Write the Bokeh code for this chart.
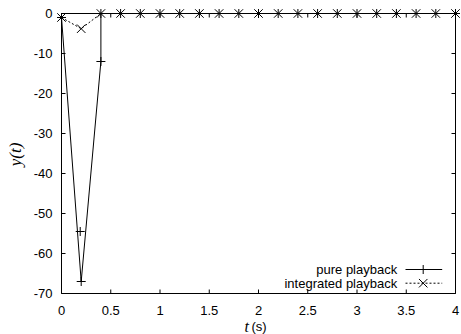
import math
from bokeh.plotting import figure
from bokeh.models import Range1d
from bokeh.core.properties import value
from bokeh.embed import file_html
from bokeh.resources import INLINE

# ---- data ----
pure_t = [0.0, 0.2, 0.4, 0.4, 0.6, 0.8, 1.0, 1.2, 1.4, 1.6, 1.8, 2.0, 2.2, 2.4,
          2.6, 2.8, 3.0, 3.2, 3.4, 3.6, 3.8, 4.0]
pure_y = [-1.0, -67.0, -12.0, 0.0, 0.0, 0.0, 0.0, 0.0, 0.0, 0.0, 0.0, 0.0, 0.0, 0.0,
          0.0, 0.0, 0.0, 0.0, 0.0, 0.0, 0.0, 0.0]
pure_extra_t = [0.19]
pure_extra_y = [-54.5]

integ_t = [0.0, 0.2, 0.4, 0.6, 0.8, 1.0, 1.2, 1.4, 1.6, 1.8, 2.0, 2.2, 2.4,
           2.6, 2.8, 3.0, 3.2, 3.4, 3.6, 3.8, 4.0]
integ_y = [-1.0, -3.8, 0.0, 0.0, 0.0, 0.0, 0.0, 0.0, 0.0, 0.0, 0.0, 0.0, 0.0,
           0.0, 0.0, 0.0, 0.0, 0.0, 0.0, 0.0, 0.0]

x_ticks = [0, 0.5, 1, 1.5, 2, 2.5, 3, 3.5, 4]
x_tick_labels = ["0", "0.5", "1", "1.5", "2", "2.5", "3", "3.5", "4"]
y_ticks = [-70, -60, -50, -40, -30, -20, -10, 0]
y_tick_labels = ["-70", "-60", "-50", "-40", "-30", "-20", "-10", "0"]

series_names = ["pure playback", "integrated playback"]
x_label_parts = ["t", "(s)"]
y_label = "y(t)"

SANS = value("Liberation Sans")
SERIF = value("Liberation Serif")

W, H = 461, 334
X_MIN, X_MAX = x_ticks[0], x_ticks[-1]
Y_MIN, Y_MAX = y_ticks[0], y_ticks[-1]
LEFT_PX, TOP_PX = 61, 13      # where the data box starts on the canvas
PX_X = 98.5                   # pixels per x unit
PX_Y = 4.0                    # pixels per y unit


def dx(px):   # canvas pixel column -> data x
    return (px - LEFT_PX) / PX_X


def dy(px):   # canvas pixel row -> data y
    return Y_MAX - (px - TOP_PX) / PX_Y


p = figure(width=W, height=H,
           x_range=Range1d(dx(0), dx(W)), y_range=Range1d(dy(H), dy(0)),
           output_backend="svg", toolbar_location=None,
           x_axis_type=None, y_axis_type=None,
           min_border=0, min_border_left=0, min_border_right=0,
           min_border_top=0, min_border_bottom=0)
p.grid.visible = False
p.outline_line_color = None
p.background_fill_color = "white"
p.border_fill_color = "white"

# border box of the data area and inward ticks on all four sides (gnuplot style)
p.quad(left=[X_MIN], right=[X_MAX], bottom=[Y_MIN], top=[Y_MAX],
       fill_color=None, line_color="black", line_width=1)
TICK = 4  # px
nx, ny = len(x_ticks), len(y_ticks)
p.segment(x0=x_ticks, y0=[Y_MIN] * nx, x1=x_ticks, y1=[Y_MIN + TICK / PX_Y] * nx,
          line_color="black", line_width=1)
p.segment(x0=x_ticks, y0=[Y_MAX] * nx, x1=x_ticks, y1=[Y_MAX - TICK / PX_Y] * nx,
          line_color="black", line_width=1)
p.segment(x0=[X_MIN] * ny, y0=y_ticks, x1=[X_MIN + TICK / PX_X] * ny, y1=y_ticks,
          line_color="black", line_width=1)
p.segment(x0=[X_MAX] * ny, y0=y_ticks, x1=[X_MAX - TICK / PX_X] * ny, y1=y_ticks,
          line_color="black", line_width=1)

# tick labels
p.text(x=x_ticks, y=[dy(309.5)] * nx, text=x_tick_labels, text_font=SANS,
       text_font_size="13px", text_align="center", text_baseline="alphabetic",
       text_color="black")
p.text(x=[dx(52)] * ny, y=y_ticks, text=y_tick_labels, text_font=SANS,
       text_font_size="13px", text_align="right", text_baseline="middle",
       text_color="black")

# axis titles
p.text(x=[dx(15)], y=[dy(154)], text=[y_label], text_font=SERIF,
       text_font_style="italic", text_font_size="17px", angle=math.pi / 2,
       text_align="center", text_baseline="middle", text_color="black")
p.text(x=[dx(248.5)], y=[dy(326)], text=[x_label_parts[0]], text_font=SERIF,
       text_font_style="italic", text_font_size="16px", text_align="right",
       text_baseline="alphabetic", text_color="black")
p.text(x=[dx(251)], y=[dy(326)], text=[x_label_parts[1]], text_font=SANS,
       text_font_size="13px", text_align="left", text_baseline="alphabetic",
       text_color="black")

# data series
p.line(pure_t, pure_y, line_color="black", line_width=1)
p.scatter(pure_t, pure_y, marker="cross", size=9, line_color="black", line_width=1)
p.scatter(pure_extra_t, pure_extra_y, marker="cross", size=9, line_color="black", line_width=1)

p.line(integ_t, integ_y, line_color="black", line_width=1, line_dash="2 2")
p.scatter(integ_t, integ_y, marker="x", size=12, line_color="black", line_width=1)

# legend (gnuplot style: text right-aligned, sample to its right)
leg_rows = [dy(269), dy(282.7)]
leg_text_x = dx(396.7)
leg_line_x = [dx(405), dx(441.7)]
leg_mark_x = dx(422.7)
p.text(x=[leg_text_x] * 2, y=leg_rows, text=series_names, text_font=SANS,
       text_font_size="13px", text_align="right", text_baseline="middle",
       text_color="black")
p.line(leg_line_x, [leg_rows[0]] * 2, line_color="black", line_width=1)
p.scatter([leg_mark_x], [leg_rows[0]], marker="cross", size=9, line_color="black")
p.line(leg_line_x, [leg_rows[1]] * 2, line_color="black", line_width=1, line_dash="2 2")
p.scatter([leg_mark_x], [leg_rows[1]], marker="x", size=12, line_color="black")

open("out.html", "w").write(file_html(p, INLINE))
